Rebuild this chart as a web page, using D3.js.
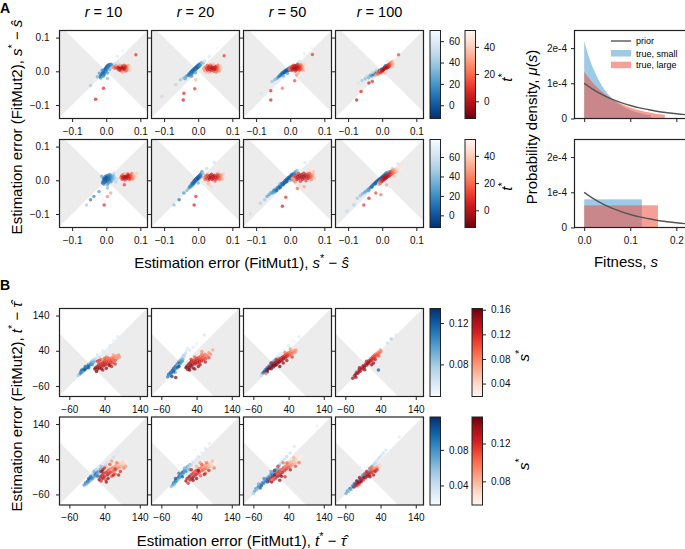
<!DOCTYPE html>
<html><head><meta charset="utf-8">
<script src="https://cdn.jsdelivr.net/npm/d3@7"></script>
<style>body{margin:0;background:#fff}</style>
</head><body><svg id="c" width="685" height="549"></svg>
<script>
// ---------------- DATA ----------------
const rLabels = ["10", "20", "50", "100"];
const aTicks = [-0.1, 0.0, 0.1];
const bTicks = [-60, 40, 140];
const aDomX = [-0.137, 0.121], aDomY = [-0.14, 0.121];
const bDomX = [-88, 162], bDomY = [-90, 160];
const aBlueCb = [[-12.4, 70], [-12.5, 78]];
const aRedCb = [[-12.6, 52], [-12.6, 52]];
const aBlueCbTicks = [0, 20, 40, 60];
const aRedCbTicks = [0, 20, 40];
const bBlueCb = [[0.049, 0.134], [0.018, 0.117]];
const bRedCb = [[0.019, 0.162], [0.055, 0.148]];
const bBlueCbTicks = [[0.08, 0.12], [0.04, 0.08]];
const bRedCbTicks = [[0.04, 0.08, 0.12, 0.16], [0.08, 0.12]];

// Panel A: [FitMut1 error, FitMut2 error, t*]
const A1b = [[-.018,-.016,5],[-.015,-.012,8],[-.013,-.008,3],[-.011,-.012,10],[-.010,-.004,2],[-.008,-.007,6],[-.007,.000,4],[-.006,-.010,12],[-.005,.004,1],[-.004,-.003,7],[-.003,.007,3],[-.002,.002,9],[-.001,.010,2],[.000,-.002,14],[.001,.013,4],[.002,.006,8],[.003,.016,3],[.005,.011,11],[.006,.019,5],[.008,.015,9],[.010,.020,7],[.012,.017,15],[.014,.021,10],[.016,.019,20],[-.020,-.006,22],[-.016,-.020,18],[-.012,.003,16],[.004,-.005,25],[.020,.013,35],[.025,.022,45],[.033,.027,55],[.033,.044,60],[.048,.060,65],[-.046,-.042,40],[.004,-.021,35],[-.026,-.016,30],[-.009,-.015,20],[.010,.005,28]];
const A1r = [[.018,.012,30],[.022,.015,25],[.025,.009,20],[.028,.013,12],[.030,.017,28],[.032,.008,8],[.035,.011,5],[.037,.004,10],[.038,.014,2],[.040,.008,0],[.042,.002,6],[.043,.012,-2],[.045,.006,3],[.046,.016,8],[.048,.010,-4],[.049,.003,12],[.050,.013,1],[.052,.007,-3],[.053,.018,15],[.055,.011,4],[.056,.001,18],[.057,.006,2],[.058,.015,9],[.060,.009,6],[.061,.003,22],[.062,.013,14],[.064,.007,25],[.065,.017,30],[.067,.010,35],[.069,.004,40],[.070,.014,42],[.072,.008,45],[.040,.019,33],[.047,-.002,28],[.087,.049,10],[-.008,-.050,8],[-.031,-.083,5]];
const A2b = [[-.030,-.012,10],[-.027,-.008,6],[-.025,-.013,15],[-.023,-.004,4],[-.021,-.009,8],[-.020,.000,3],[-.018,-.005,12],[-.016,.003,2],[-.015,-.002,7],[-.013,.006,1],[-.012,.001,9],[-.010,.009,4],[-.009,.004,6],[-.007,.012,2],[-.006,.007,11],[-.004,.015,5],[-.003,.010,3],[-.001,.017,8],[.000,.012,1],[.002,.020,6],[.003,.015,13],[.005,.022,9],[.007,.018,18],[-.035,-.015,20],[-.038,-.022,25],[-.042,-.020,30],[-.019,-.015,22],[.009,.026,28],[.014,.024,35],[-.052,-.025,38],[-.066,-.040,45],[-.106,-.075,50],[.032,.044,58],[.055,.070,66],[.018,.030,48],[-.008,-.004,26]];
const A2r = [[.016,.008,30],[.019,.002,25],[.021,.013,20],[.023,-.003,35],[.025,.008,10],[.027,.017,15],[.028,.003,6],[.030,.011,2],[.032,-.001,12],[.033,.015,4],[.035,.006,0],[.036,.019,18],[.038,.010,-3],[.040,.002,8],[.041,.014,1],[.043,.007,-2],[.044,.018,10],[.046,.000,14],[.047,.011,3],[.049,.005,-4],[.050,.015,6],[.052,.009,2],[.053,-.003,22],[.055,.013,9],[.056,.004,12],[.058,.018,20],[.059,.009,16],[.061,.001,26],[.062,.013,24],[.064,.006,32],[.066,.016,38],[.068,.010,44],[.045,.021,40],[.030,-.005,42],[.076,.046,12],[-.007,-.025,35],[-.010,-.052,10],[-.042,-.065,8],[-.044,-.085,5]];
const A3b = [[-.038,-.020,20],[-.034,-.016,15],[-.031,-.014,10],[-.029,-.010,18],[-.027,-.011,6],[-.025,-.006,12],[-.023,-.008,4],[-.021,-.003,8],[-.019,-.005,2],[-.017,.000,5],[-.015,-.003,1],[-.013,.003,3],[-.011,.000,0],[-.009,.005,2],[-.007,.002,-2],[-.005,.008,4],[-.003,.004,1],[-.001,.010,6],[.001,.006,3],[.003,.012,9],[.005,.008,7],[.008,.014,12],[.011,.011,16],[.014,.017,24],[.016,.015,30],[-.045,-.024,30],[-.053,-.030,38],[-.085,-.065,55],[.041,.053,60],[.063,.070,66],[.022,.024,45],[.028,.030,52],[-.020,-.014,28],[-.008,-.006,22]];
const A3r = [[-.003,.006,25],[.000,.012,20],[.002,.002,15],[.004,.009,8],[.006,.015,12],[.007,.004,4],[.009,.011,1],[.010,.018,10],[.012,.006,-2],[.013,.013,0],[.015,.001,6],[.016,.009,-4],[.017,.017,3],[.019,.005,-1],[.020,.012,-3],[.022,.020,8],[.023,.008,2],[.025,.014,-2],[.026,.003,10],[.028,.010,5],[.029,.018,14],[.031,.006,12],[.032,.013,9],[.034,.021,22],[.035,.009,18],[.037,.016,26],[.039,.004,30],[.040,.012,34],[.042,.019,40],[.044,.008,44],[.046,.015,48],[.038,.024,45],[.024,-.005,36],[.065,.050,12],[.019,-.011,28],[.013,-.028,14],[-.023,-.050,22],[-.057,-.058,8],[-.057,-.085,6]];
const A4b = [[-.059,-.027,40],[-.050,-.022,35],[-.044,-.015,45],[-.040,-.019,30],[-.035,-.012,25],[-.031,-.014,20],[-.027,-.008,15],[-.024,-.010,10],[-.020,-.004,12],[-.017,-.006,5],[-.014,-.001,8],[-.011,-.003,3],[-.008,.003,6],[-.005,.001,2],[-.002,.006,4],[.001,.004,1],[.004,.010,5],[.007,.013,8],[.010,.017,12],[-.028,-.003,50],[-.070,-.035,55],[-.018,.002,42],[.015,.030,60]];
const A4r = [[-.019,-.011,30],[-.015,-.006,25],[-.012,-.009,18],[-.009,-.002,12],[-.006,.001,20],[-.004,-.004,8],[-.001,.004,5],[.001,.000,2],[.003,.007,-1],[.005,.003,-3],[.007,.010,0],[.009,.006,-4],[.010,.013,3],[.012,.009,-2],[.014,.016,1],[.015,.011,-3],[.017,.019,6],[.018,.013,2],[.020,.021,10],[.021,.015,7],[.023,.024,16],[.024,.018,12],[.026,.027,22],[.027,.020,18],[.029,.024,28],[.031,.030,34],[.033,.022,36],[.036,.028,42],[.038,.033,46],[.040,.026,50],[.030,.014,38],[.008,-.004,32],[.048,.049,14],[-.029,-.030,10],[-.039,-.035,6],[-.062,-.060,8],[-.075,-.085,4],[.012,.000,44]];
const A5b = [[-.011,-.008,8],[-.009,-.002,4],[-.008,.006,10],[-.007,-.011,14],[-.005,.002,1],[-.004,.010,6],[-.003,-.006,3],[-.001,.004,0],[.000,.013,8],[.001,-.003,2],[.002,.008,-2],[.004,.001,5],[.005,.015,12],[.006,-.008,16],[.007,.006,3],[.009,.011,7],[.010,.000,9],[.011,.017,18],[.013,.005,11],[.014,-.004,20],[.015,.012,15],[.017,.008,24],[.019,.002,30],[.021,.014,35],[.024,.007,40],[.028,-.004,50],[.033,.004,58],[.022,.022,55],[.003,-.013,28],[-.021,-.033,25],[-.036,-.048,20],[-.046,-.058,15],[-.058,-.073,45],[.0035,-.023,40],[-.013,.012,30]];
const A5r = [[.043,.008,20],[.045,.013,12],[.047,.003,8],[.049,.010,2],[.050,.017,15],[.052,.006,-2],[.054,.012,0],[.055,.001,10],[.057,.009,-4],[.058,.015,4],[.060,.005,1],[.062,.011,-3],[.063,.019,9],[.065,.007,3],[.066,.014,-1],[.068,.002,14],[.069,.010,5],[.071,.016,10],[.072,.006,8],[.074,.012,16],[.075,.020,22],[.077,.004,24],[.078,.009,18],[.080,.014,28],[.082,.007,32],[.084,.012,38],[.086,.018,44],[.088,.005,46],[.090,.021,40],[.055,.020,36],[.053,-.013,12],[.013,-.038,30],[.0035,-.048,25],[-.006,-.073,8]];
const A6b = [[-.027,-.023,18],[-.024,-.017,12],[-.021,-.019,20],[-.019,-.010,6],[-.017,-.014,10],[-.015,-.006,3],[-.013,-.010,8],[-.012,-.001,1],[-.010,-.005,4],[-.008,.003,0],[-.007,-.002,6],[-.005,.006,2],[-.004,.001,9],[-.002,.009,3],[-.001,.004,1],[.001,.012,5],[.002,.007,2],[.004,.015,8],[.005,.010,4],[.007,.018,11],[.008,.013,14],[.009,.022,20],[.011,.026,30],[.014,.020,38],[-.042,-.038,25],[-.056,-.058,10],[-.071,-.073,40],[.047,.053,60],[.025,.035,55],[-.033,-.030,35],[.000,-.008,30]];
const A6r = [[.017,.008,28],[.020,.002,20],[.022,.013,15],[.025,.006,8],[.027,.016,12],[.029,.000,18],[.031,.010,2],[.033,.004,-2],[.035,.014,1],[.037,.008,-4],[.039,.018,6],[.041,.002,5],[.043,.011,-3],[.045,.006,0],[.047,.015,3],[.049,-.002,14],[.051,.009,2],[.053,.004,6],[.055,.013,4],[.057,.019,12],[.059,.007,8],[.061,.012,10],[.063,.002,20],[.065,.016,18],[.067,.009,24],[.069,.014,30],[.071,.004,34],[.073,.019,38],[.075,.010,44],[.060,.025,42],[.057,.046,48],[.037,-.018,40],[-.007,-.048,10],[-.012,-.073,6],[.030,-.010,35]];
const A7b = [[-.068,-.048,30],[-.062,-.043,25],[-.057,-.036,35],[-.053,-.038,20],[-.049,-.031,15],[-.045,-.027,22],[-.042,-.030,12],[-.038,-.022,8],[-.035,-.024,16],[-.032,-.017,5],[-.029,-.019,10],[-.026,-.012,3],[-.023,-.014,7],[-.021,-.007,1],[-.018,-.009,4],[-.016,-.002,0],[-.013,-.004,2],[-.011,.003,-2],[-.008,.001,1],[-.006,.008,3],[-.003,.005,0],[-.001,.012,4],[.002,.010,2],[.004,.017,6],[.007,.014,8],[.010,.021,12],[.013,.019,16],[.016,.026,22],[-.087,-.068,50],[-.117,-.100,60],[.043,.053,64],[.020,.029,40],[-.075,-.058,45],[-.030,-.010,38],[.000,.000,30],[-.040,-.030,6],[-.030,-.022,4],[-.020,-.012,2],[-.010,-.004,3],[.000,.006,5],[-.045,-.035,20],[-.025,-.010,12],[-.015,-.006,8],[.005,.015,10]];
const A7r = [[.006,.006,30],[.009,.000,22],[.011,.012,15],[.014,-.004,25],[.016,.008,6],[.018,.016,12],[.020,.002,2],[.022,.011,-2],[.024,.020,8],[.026,.005,0],[.028,.014,-4],[.030,-.003,10],[.032,.009,-3],[.034,.017,2],[.036,.003,-1],[.038,.012,-4],[.040,.021,6],[.042,.007,1],[.044,.015,-2],[.046,-.001,12],[.048,.010,3],[.050,.018,8],[.052,.005,5],[.054,.013,4],[.056,.022,16],[.058,.008,10],[.060,.016,14],[.062,.002,24],[.064,.011,20],[.066,.019,30],[.068,.026,38],[.070,.006,36],[.055,.030,44],[.065,.046,46],[.041,-.019,30],[.021,-.024,20],[-.013,-.050,10],[-.023,-.077,6],[.028,-.013,42]];
const A8b = [[-.073,-.053,45],[-.064,-.046,40],[-.058,-.040,35],[-.052,-.036,30],[-.047,-.032,25],[-.043,-.027,38],[-.039,-.026,20],[-.035,-.021,15],[-.031,-.018,10],[-.028,-.014,18],[-.025,-.012,6],[-.022,-.009,12],[-.019,-.006,3],[-.016,-.003,8],[-.013,-.001,1],[-.010,.002,4],[-.007,.004,0],[-.004,.007,2],[-.001,.010,5],[.002,.012,3],[.005,.015,7],[.008,.018,10],[.011,.021,14],[.015,.023,20],[.020,.025,28],[.025,.026,35],[-.103,-.092,55],[-.083,-.073,48],[.045,.050,62],[-.010,-.012,42],[.030,.035,50],[-.030,-.020,8],[-.020,-.010,5],[-.010,-.002,3],[.000,.006,2],[-.040,-.030,25],[.010,.015,8]];
const A8r = [[-.009,-.006,28],[-.006,-.010,20],[-.004,.000,15],[-.002,-.004,10],[.000,.004,6],[.002,-.001,2],[.004,.007,-2],[.006,.002,0],[.008,.010,-4],[.010,.005,-3],[.011,.013,1],[.013,.008,-1],[.015,.016,3],[.016,.011,-2],[.018,.019,5],[.020,.013,2],[.022,.022,8],[.023,.016,6],[.025,.025,12],[.027,.019,10],[.029,.028,18],[.031,.021,16],[.033,.030,26],[.036,.024,24],[.039,.031,34],[.042,.027,36],[.046,.033,42],[.050,.038,46],[.055,.031,48],[.035,.012,38],[.050,.045,44],[.012,-.014,30],[-.054,-.073,10],[-.039,-.053,6],[-.019,-.038,14],[-.004,-.043,22]];

// Panel B: [FitMut1 error, FitMut2 error, s*]
const B1b = [[-30,-26,.11],[-27,-20,.12],[-24,-22,.10],[-22,-15,.12],[-20,-18,.09],[-18,-11,.11],[-16,-14,.13],[-14,-7,.10],[-12,-10,.12],[-10,-3,.09],[-8,-6,.11],[-6,1,.10],[-4,-2,.12],[-2,4,.08],[0,1,.11],[2,8,.09],[4,5,.10],[6,12,.08],[8,9,.09],[10,15,.07],[13,13,.08],[16,19,.07],[19,17,.06],[22,22,.06],[25,21,.07],[30,30,.055],[38,36,.06],[45,44,.055],[55,55,.06],[65,68,.055],[77,80,.06],[-35,-30,.08],[20,28,.065],[35,40,.06],[-15,-5,.11],[-5,-8,.12],[5,0,.10],[-25,-15,.11],[10,8,.09]];
const B1r = [[12,-12,.155],[15,-8,.145],[17,-19,.165],[19,-5,.135],[21,-12,.155],[23,0,.125],[25,-8,.145],[27,4,.115],[29,-4,.135],[31,-11,.155],[33,2,.125],[35,8,.115],[37,-3,.145],[39,5,.125],[41,12,.105],[43,0,.135],[45,9,.115],[47,15,.095],[49,4,.125],[51,11,.105],[53,-2,.135],[55,17,.095],[57,8,.115],[59,13,.105],[61,20,.085],[63,6,.115],[65,16,.095],[67,22,.085],[70,12,.105],[73,25,.075],[76,18,.085],[80,28,.075],[82,22,.075],[45,22,.085],[30,15,.095],[20,10,.12],[35,-15,.14],[50,20,.09],[60,-5,.13],[40,18,.10],[70,2,.12],[25,12,.11],[55,0,.14],[65,28,.07],[45,-10,.15]];
const B2b = [[-42,-34,.11],[-39,-27,.12],[-37,-30,.10],[-34,-22,.12],[-32,-25,.11],[-29,-16,.13],[-27,-19,.10],[-25,-10,.12],[-22,-13,.11],[-20,-4,.12],[-18,-7,.10],[-15,2,.11],[-13,-1,.09],[-11,8,.10],[-8,5,.12],[-6,14,.09],[-4,11,.10],[-1,20,.08],[1,16,.09],[4,27,.08],[6,23,.07],[9,33,.07],[11,40,.06],[14,47,.06],[20,42,.065],[30,50,.06],[40,60,.055],[62,85,.065],[-30,-33,.13],[-20,-22,.09],[-10,-5,.13],[-25,-20,.12],[-15,-8,.12],[-5,5,.10],[0,10,.10]];
const B2r = [[10,-8,.165],[13,-3,.155],[15,-13,.145],[18,2,.145],[20,-7,.165],[22,6,.135],[24,-2,.155],[26,10,.125],[28,0,.145],[30,-9,.155],[32,7,.135],[34,14,.115],[36,2,.145],[38,10,.125],[40,18,.115],[42,5,.135],[44,13,.125],[46,21,.105],[48,8,.135],[50,16,.115],[52,24,.095],[54,11,.125],[56,19,.105],[58,27,.095],[60,14,.115],[62,22,.095],[64,30,.085],[66,18,.105],[70,26,.085],[75,34,.075],[80,30,.075],[86,42,.065],[-19,-36,.155],[55,38,.075],[35,-12,.145],[25,15,.12],[45,-5,.15],[55,30,.08],[65,8,.13],[35,22,.10],[75,20,.11],[20,-15,.16],[50,0,.14]];
const B3b = [[-34,-24,.10],[-31,-21,.11],[-28,-18,.12],[-26,-13,.10],[-23,-15,.13],[-21,-8,.11],[-18,-10,.12],[-16,-3,.10],[-13,-5,.12],[-11,2,.09],[-8,0,.11],[-6,7,.10],[-3,5,.12],[-1,12,.09],[2,10,.10],[4,17,.08],[7,15,.09],[9,22,.07],[12,20,.08],[14,28,.06],[20,32,.06],[28,42,.055],[40,55,.06],[55,67,.055],[70,80,.06],[-38,-30,.07],[-20,-20,.13],[-25,-20,.12],[-15,-5,.11],[-5,0,.12],[5,12,.09]];
const B3r = [[-19,-14,.145],[-15,-10,.155],[-12,-6,.135],[-9,-11,.165],[-6,-2,.145],[-3,-6,.155],[0,3,.135],[2,-2,.165],[4,7,.145],[6,1,.155],[8,11,.125],[10,5,.145],[12,14,.135],[14,8,.155],[16,17,.125],[18,11,.145],[20,20,.115],[22,14,.135],[24,23,.125],[26,17,.145],[28,26,.115],[30,20,.135],[32,29,.105],[34,23,.125],[36,31,.105],[38,26,.115],[40,34,.095],[43,28,.105],[46,37,.085],[50,32,.095],[54,40,.075],[58,36,.085],[61,42,.075],[-25,-25,.085],[45,45,.075],[5,15,.12],[15,-5,.16],[30,35,.09],[35,12,.14],[50,22,.12],[-10,5,.13],[25,5,.15]];
const B4b = [[-30,-20,.08],[-22,-14,.07],[-10,-2,.09],[70,73,.08],[84,85,.06],[34,-15,.12],[60,62,.07]];
const B4r = [[-39,-38,.145],[-34,-30,.135],[-30,-26,.155],[-27,-21,.125],[-24,-24,.145],[-21,-15,.135],[-18,-18,.155],[-15,-9,.125],[-12,-12,.145],[-9,-3,.135],[-6,-6,.155],[-3,2,.125],[0,-1,.145],[2,7,.135],[5,4,.155],[7,12,.125],[10,9,.145],[12,17,.115],[15,13,.135],[17,22,.115],[20,18,.125],[22,27,.105],[25,23,.115],[27,31,.095],[30,28,.105],[33,36,.085],[36,33,.095],[39,42,.075],[41,38,.085],[20,5,.145],[-5,-14,.155],[-20,-8,.14],[0,10,.12],[15,0,.15],[25,15,.13],[-30,-35,.15],[35,25,.10]];
const B5b = [[-18,-33,.08],[-14,-27,.09],[-11,-30,.07],[-8,-22,.10],[-5,-25,.08],[-2,-17,.09],[1,-20,.07],[3,-12,.10],[6,-15,.08],[8,-7,.09],[11,-10,.07],[13,-2,.10],[16,-5,.08],[18,2,.09],[21,-1,.07],[23,7,.08],[26,4,.06],[28,11,.07],[31,8,.05],[33,15,.06],[36,12,.05],[39,18,.05],[42,22,.04],[45,26,.04],[50,30,.035],[58,38,.03],[66,46,.04],[77,62,.035],[82,66,.03],[5,-5,.05],[20,12,.04],[0,-8,.09],[10,5,.07],[20,-8,.09],[-5,-15,.10],[30,20,.06],[15,10,.05],[35,5,.08]];
const B5r = [[25,-18,.14],[28,-10,.13],[30,-22,.12],[33,-5,.13],[35,-14,.14],[38,0,.12],[40,-9,.13],[43,-18,.11],[45,3,.12],[48,-5,.13],[50,8,.11],[52,-1,.12],[55,12,.10],[57,3,.12],[60,-8,.11],[62,15,.10],[64,6,.11],[67,18,.09],[69,9,.10],[72,21,.09],[74,12,.10],[77,24,.08],[79,15,.09],[82,27,.08],[84,18,.09],[87,30,.07],[90,22,.08],[93,33,.07],[96,26,.07],[100,36,.06],[104,30,.06],[60,28,.07],[45,18,.08],[70,-2,.11],[35,10,.13],[50,-15,.14],[55,25,.11],[65,-5,.13],[75,30,.10],[85,5,.12],[95,15,.10],[40,15,.12],[60,35,.09],[80,-5,.13],[100,20,.09],[45,-25,.14],[30,5,.14],[70,12,.12]];
const B6b = [[-28,-33,.08],[-25,-27,.09],[-23,-30,.07],[-20,-21,.10],[-18,-24,.08],[-15,-15,.09],[-13,-18,.07],[-10,-9,.10],[-8,-12,.08],[-5,-3,.09],[-3,-6,.07],[0,3,.10],[2,0,.08],[5,9,.09],[7,6,.07],[10,15,.08],[12,12,.06],[15,20,.07],[18,18,.05],[21,25,.06],[24,24,.05],[30,32,.04],[38,40,.035],[45,47,.04],[55,58,.03],[66,70,.035],[76,85,.03],[-32,-38,.06],[-10,0,.09],[0,-10,.10],[10,5,.08],[-20,-15,.10],[20,10,.07],[5,15,.06]];
const B6r = [[10,-22,.14],[13,-15,.13],[16,-28,.12],[19,-10,.14],[21,-19,.13],[24,-5,.12],[27,-14,.14],[30,0,.12],[32,-9,.13],[35,5,.11],[38,-4,.13],[40,9,.11],[43,0,.12],[46,13,.10],[48,4,.12],[51,-7,.11],[53,16,.10],[56,8,.11],[59,19,.09],[61,11,.10],[64,22,.09],[67,14,.10],[70,24,.08],[72,17,.09],[75,27,.08],[78,20,.08],[81,28,.07],[84,23,.07],[88,30,.06],[92,26,.06],[95,32,.06],[65,0,.11],[40,20,.08],[25,10,.13],[40,-15,.14],[55,25,.11],[62,-3,.13],[75,8,.12],[85,35,.08],[30,-20,.14],[50,30,.09],[90,15,.10],[68,30,.10],[45,8,.14]];
const B7b = [[-57,-52,.07],[-53,-44,.08],[-50,-47,.06],[-46,-38,.09],[-43,-41,.07],[-40,-32,.08],[-37,-35,.10],[-34,-26,.08],[-31,-29,.09],[-28,-20,.07],[-25,-23,.09],[-22,-14,.08],[-19,-17,.10],[-16,-8,.07],[-13,-11,.09],[-10,-2,.08],[-7,-5,.09],[-4,4,.07],[-1,1,.08],[2,10,.07],[5,7,.08],[8,16,.06],[11,13,.07],[14,22,.06],[18,28,.05],[22,33,.05],[28,40,.04],[35,48,.045],[44,58,.04],[56,76,.035],[120,134,.025],[-60,-58,.05],[-30,-15,.08],[-20,-25,.10],[-10,5,.07],[0,-5,.09],[-40,-42,.09],[10,20,.06],[-45,-30,.07]];
const B7r = [[-15,-22,.13],[-11,-15,.12],[-8,-25,.14],[-5,-10,.13],[-2,-18,.12],[1,-5,.14],[4,-13,.13],[7,0,.12],[10,-8,.14],[13,5,.12],[16,-3,.13],[19,10,.11],[22,2,.13],[25,15,.11],[28,7,.12],[31,20,.10],[34,12,.12],[37,25,.10],[40,17,.11],[43,29,.09],[46,21,.10],[49,33,.08],[52,25,.09],[55,38,.08],[58,30,.08],[61,42,.07],[64,34,.07],[68,46,.06],[72,40,.06],[76,52,.06],[80,45,.06],[30,-10,.12],[0,8,.13],[10,20,.11],[20,-8,.14],[35,30,.10],[45,10,.13],[55,45,.08],[60,20,.11],[70,30,.10],[15,-20,.14],[25,30,.10]];
const B8b = [[-58,-57,.07],[-54,-50,.08],[-51,-52,.06],[-47,-43,.09],[-44,-46,.07],[-40,-36,.08],[-37,-39,.10],[-33,-29,.08],[-30,-32,.09],[-26,-22,.07],[-23,-25,.09],[-19,-15,.08],[-16,-18,.10],[-12,-8,.07],[-9,-11,.09],[-5,-1,.08],[-2,-4,.09],[2,6,.07],[5,3,.08],[9,13,.06],[12,10,.07],[16,20,.06],[20,24,.05],[25,30,.05],[30,37,.04],[36,44,.045],[42,50,.04],[48,58,.04],[55,66,.035],[93,104,.03],[-35,-30,.09],[-20,-25,.10],[-10,-5,.08],[0,-2,.09],[10,15,.07]];
const B8r = [[-34,-38,.12],[-30,-32,.13],[-27,-35,.12],[-24,-27,.14],[-21,-30,.13],[-18,-22,.12],[-15,-24,.14],[-12,-16,.13],[-9,-19,.12],[-6,-11,.14],[-3,-13,.13],[0,-5,.12],[3,-8,.14],[6,0,.12],[9,-3,.13],[12,5,.11],[15,2,.12],[18,10,.10],[21,7,.11],[24,15,.09],[27,12,.10],[30,20,.08],[33,17,.09],[36,24,.07],[38,20,.07],[10,12,.10],[-5,-2,.11],[20,-5,.13],[-20,-12,.13],[0,5,.12],[10,-10,.14],[25,5,.13],[-28,-22,.14],[15,18,.10],[30,10,.12]];

// Right panels: fitness densities
const priorS = [0, 0.02, 0.04, 0.06, 0.08, 0.10, 0.12, 0.14, 0.16, 0.18, 0.20, 0.22, 0.24];
const priorY = [1.0e-4, 0.82e-4, 0.67e-4, 0.55e-4, 0.45e-4, 0.37e-4, 0.30e-4, 0.25e-4, 0.20e-4, 0.165e-4, 0.135e-4, 0.11e-4, 0.09e-4];
const smallS = [0, 0.01, 0.02, 0.03, 0.04, 0.05, 0.06, 0.07, 0.08, 0.09, 0.10, 0.11, 0.12, 0.13, 0.14, 0.145];
const smallY = [2.2e-4, 1.76e-4, 1.41e-4, 1.13e-4, 0.90e-4, 0.72e-4, 0.58e-4, 0.46e-4, 0.37e-4, 0.30e-4, 0.24e-4, 0.19e-4, 0.153e-4, 0.12e-4, 0.10e-4, 0.088e-4];
const largeS = [0, 0.01, 0.02, 0.03, 0.04, 0.05, 0.06, 0.07, 0.08, 0.09, 0.10, 0.11, 0.12, 0.13, 0.14, 0.15, 0.16, 0.17, 0.175];
const largeY = [1.33e-4, 1.15e-4, 0.995e-4, 0.86e-4, 0.745e-4, 0.645e-4, 0.557e-4, 0.48e-4, 0.417e-4, 0.36e-4, 0.31e-4, 0.27e-4, 0.234e-4, 0.20e-4, 0.175e-4, 0.151e-4, 0.13e-4, 0.113e-4, 0.105e-4];
const binSmall = [0, 0.125, 0.8e-4];
const binLarge = [0, 0.16, 0.63e-4];
const densTicks = [0, 1e-4, 2e-4];
const densTickLabels = ["0", "1e-4", "2e-4"];
const fitTicks = [0, 0.1, 0.2];
const legendLabels = ["prior", "true, small", "true, large"];

// ---------------- DRAWING ----------------
const FONT = '"Liberation Sans", Arial, Helvetica, sans-serif';
const svg = d3.select("#c");
const defs = svg.append("defs");
const P = 88;
const colX = [59.5, 151.5, 243.5, 335.5];
const rowA = [30.5, 139.5];
const rowB = [308.5, 417];
let clipN = 0;
const clamp = v => Math.max(0, Math.min(1, v));
const norm = (d, v) => clamp((v - d[0]) / (d[1] - d[0]));

function styleAxis(g) {
  g.attr("font-family", FONT).attr("font-size", 10);
  g.select(".domain").remove();
  g.selectAll(".tick line").attr("stroke", "#222").attr("stroke-width", 1);
  g.selectAll(".tick text").attr("fill", "#111");
}

function scatter(px, py, domX, domY, ticks, fmt, blue, red, cB, cR, showY, L) {
  const g = svg.append("g").attr("transform", `translate(${px},${py})`);
  const x = d3.scaleLinear().domain(domX).range([0, P]);
  const y = d3.scaleLinear().domain(domY).range([P, 0]);
  const id = "clip" + (clipN++);
  g.append("clipPath").attr("id", id).append("rect").attr("width", P).attr("height", P);
  const inner = g.append("g").attr("clip-path", `url(#${id})`);
  inner.append("path")
    .attr("d", `M${x(0)},${y(0)}L${x(L)},${y(L)}L${x(L)},${y(-L)}Z M${x(0)},${y(0)}L${x(-L)},${y(L)}L${x(-L)},${y(-L)}Z`)
    .attr("fill", "#ececec");
  inner.append("g").selectAll("circle").data(blue).join("circle")
    .attr("cx", d => x(d[0])).attr("cy", d => y(d[1])).attr("r", 1.75)
    .attr("fill", d => cB(d[2])).attr("fill-opacity", 0.72);
  inner.append("g").selectAll("circle").data(red).join("circle")
    .attr("cx", d => x(d[0])).attr("cy", d => y(d[1])).attr("r", 1.75)
    .attr("fill", d => cR(d[2])).attr("fill-opacity", 0.72);
  g.append("g").attr("transform", `translate(0,${P})`)
    .call(d3.axisBottom(x).tickValues(ticks).tickFormat(fmt).tickSize(3.5).tickPadding(5.5)).call(styleAxis);
  g.append("g")
    .call(d3.axisLeft(y).tickValues(ticks).tickFormat(showY ? fmt : () => "").tickSize(3.5).tickPadding(6.5)).call(styleAxis);
  g.append("rect").attr("width", P).attr("height", P).attr("fill", "none")
    .attr("stroke", "#222").attr("stroke-width", 1.2);
}

function cbar(x0, y0, w, dom, ticks, fmt, colorFn) {
  const id = "grad" + (clipN++);
  const grad = defs.append("linearGradient").attr("id", id).attr("x1", 0).attr("y1", 0).attr("x2", 0).attr("y2", 1);
  for (let k = 0; k <= 30; k++) {
    const v = dom[1] - k / 30 * (dom[1] - dom[0]);
    grad.append("stop").attr("offset", k / 30).attr("stop-color", colorFn(v));
  }
  svg.append("rect").attr("x", x0).attr("y", y0).attr("width", w).attr("height", P)
    .attr("fill", `url(#${id})`).attr("stroke", "#222").attr("stroke-width", 1);
  const s = d3.scaleLinear().domain(dom).range([y0 + P, y0]);
  svg.append("g").attr("transform", `translate(${x0 + w},0)`)
    .call(d3.axisRight(s).tickValues(ticks).tickFormat(fmt).tickSize(3.5).tickPadding(5)).call(styleAxis);
}

function starLabel(x, y, letter) {
  const t = svg.append("text").attr("transform", `translate(${x},${y}) rotate(-90)`)
    .attr("text-anchor", "middle").attr("font-family", FONT).attr("font-size", 15);
  t.append("tspan").attr("font-style", "italic").text(letter);
  t.append("tspan").attr("dy", -6).attr("font-size", 11).text("*");
}

const fmtA = d3.format(".1f");
const fmtB = d3.format("d");
const aPanels = [[A1b, A1r], [A2b, A2r], [A3b, A3r], [A4b, A4r], [A5b, A5r], [A6b, A6r], [A7b, A7r], [A8b, A8r]];
const bPanels = [[B1b, B1r], [B2b, B2r], [B3b, B3r], [B4b, B4r], [B5b, B5r], [B6b, B6r], [B7b, B7r], [B8b, B8r]];

for (let r = 0; r < 2; r++) {
  const cBA = v => d3.interpolateBlues(1 - norm(aBlueCb[r], v));
  const cRA = v => d3.interpolateReds(1 - norm(aRedCb[r], v));
  const cBB = v => d3.interpolateBlues(norm(bBlueCb[r], v));
  const cRB = v => d3.interpolateReds(norm(bRedCb[r], v));
  for (let c = 0; c < 4; c++) {
    const pa = aPanels[r * 4 + c], pb = bPanels[r * 4 + c];
    scatter(colX[c], rowA[r], aDomX, aDomY, aTicks, fmtA, pa[0], pa[1], cBA, cRA, c === 0, 1);
    scatter(colX[c], rowB[r], bDomX, bDomY, bTicks, fmtB, pb[0], pb[1], cBB, cRB, c === 0, 1000);
  }
  cbar(430, rowA[r], 10.5, aBlueCb[r], aBlueCbTicks, d3.format("d"), cBA);
  cbar(465, rowA[r], 10.5, aRedCb[r], aRedCbTicks, d3.format("d"), cRA);
  starLabel(512, rowA[r] + P / 2 + 3, "t");
  cbar(430, rowB[r], 10.5, bBlueCb[r], bBlueCbTicks[r], d3.format(".2f"), cBB);
  cbar(472, rowB[r], 10.5, bRedCb[r], bRedCbTicks[r], d3.format(".2f"), cRB);
  starLabel(529, rowB[r] + P / 2 + 3, "s");
}

// column titles
rLabels.forEach((lab, c) => {
  const t = svg.append("text").attr("x", colX[c] + P / 2).attr("y", 17).attr("text-anchor", "middle")
    .attr("font-family", FONT).attr("font-size", 14.5);
  t.append("tspan").attr("font-style", "italic").text("r");
  t.append("tspan").text(" = " + lab);
});

// panel letters
svg.append("text").attr("x", 0).attr("y", 12.5).attr("font-family", FONT).attr("font-weight", "bold").attr("font-size", 14).text("A");
svg.append("text").attr("x", 0).attr("y", 290).attr("font-family", FONT).attr("font-weight", "bold").attr("font-size", 14).text("B");

function axisLabel(x, y, rot, prefix, v, hat) {
  const t = svg.append("text").attr("transform", `translate(${x},${y}) rotate(${rot})`)
    .attr("text-anchor", "middle").attr("font-family", FONT).attr("font-size", 15);
  t.append("tspan").text(prefix);
  t.append("tspan").attr("font-style", "italic").text(v);
  t.append("tspan").attr("dy", -6).attr("font-size", 11).text("*");
  t.append("tspan").attr("dy", 6).text(" \u2212 ");
  t.append("tspan").attr("font-style", "italic").text(hat);
}
const midX = (colX[0] + colX[3] + P) / 2;
axisLabel(midX, 268, 0, "Estimation error (FitMut1), ", "s", "\u015D");
axisLabel(22, (rowA[0] + rowA[1] + P) / 2 - 2, -90, "Estimation error (FitMut2), ", "s", "\u015D");
axisLabel(midX, 546, 0, "Estimation error (FitMut1), ", "t", "\u03C4\u0302");
axisLabel(22, (rowB[0] + rowB[1] + P) / 2, -90, "Estimation error (FitMut2), ", "t", "\u03C4\u0302");

// ---------------- right panels ----------------
const rx = d3.scaleLinear().domain([-0.021, 0.222]).range([574.5, 686.5]);
const blueFill = "#4c9ed4", redFill = "#ee5040";
function densPanel(y0, isTop) {
  const y = d3.scaleLinear().domain([0, 2.5e-4]).range([y0 + P, y0]);
  const id = "clip" + (clipN++);
  svg.append("clipPath").attr("id", id).append("rect").attr("x", 574.5).attr("y", y0).attr("width", 120).attr("height", P);
  const g = svg.append("g").attr("clip-path", `url(#${id})`);
  if (isTop) {
    const area = d3.area().curve(d3.curveMonotoneX).x(d => rx(d[0])).y0(y(0)).y1(d => y(d[1]));
    g.append("path").attr("d", area(smallS.map((s, i) => [s, smallY[i]]))).attr("fill", blueFill).attr("fill-opacity", 0.55);
    g.append("path").attr("d", area(largeS.map((s, i) => [s, largeY[i]]))).attr("fill", redFill).attr("fill-opacity", 0.55);
  } else {
    g.append("rect").attr("x", rx(binSmall[0])).attr("y", y(binSmall[2])).attr("width", rx(binSmall[1]) - rx(binSmall[0]))
      .attr("height", y(0) - y(binSmall[2])).attr("fill", blueFill).attr("fill-opacity", 0.55);
    g.append("rect").attr("x", rx(binLarge[0])).attr("y", y(binLarge[2])).attr("width", rx(binLarge[1]) - rx(binLarge[0]))
      .attr("height", y(0) - y(binLarge[2])).attr("fill", redFill).attr("fill-opacity", 0.55);
  }
  const line = d3.line().curve(d3.curveMonotoneX).x(d => rx(d[0])).y(d => y(d[1]));
  g.append("path").attr("d", line(priorS.map((s, i) => [s, priorY[i]]))).attr("fill", "none").attr("stroke", "#555").attr("stroke-width", 1.4);
  svg.append("g").attr("transform", `translate(574.5,0)`)
    .call(d3.axisLeft(y).tickValues(densTicks).tickFormat((d, i) => densTickLabels[i]).tickSize(3.5).tickPadding(4)).call(styleAxis);
  svg.append("g").attr("transform", `translate(0,${y0 + P})`)
    .call(d3.axisBottom(rx).tickValues(fitTicks).tickFormat(isTop ? () => "" : d3.format(".1f")).tickSize(3.5).tickPadding(5.5)).call(styleAxis);
  svg.append("rect").attr("x", 574.5).attr("y", y0).attr("width", 130).attr("height", P)
    .attr("fill", "none").attr("stroke", "#222").attr("stroke-width", 1.2);
}
densPanel(30.5, true);
densPanel(139.5, false);

// legend
const lg = svg.append("g").attr("font-family", FONT).attr("font-size", 9);
lg.append("line").attr("x1", 611).attr("x2", 631).attr("y1", 41).attr("y2", 41).attr("stroke", "#555").attr("stroke-width", 1.4);
lg.append("rect").attr("x", 611).attr("y", 50).attr("width", 20).attr("height", 6.5).attr("fill", blueFill).attr("fill-opacity", 0.55);
lg.append("rect").attr("x", 611).attr("y", 61.7).attr("width", 20).attr("height", 6.5).attr("fill", redFill).attr("fill-opacity", 0.55);
[41, 53.3, 65].forEach((yy, i) => lg.append("text").attr("x", 636).attr("y", yy + 3.2).text(legendLabels[i]));

// right axis labels
const pl = svg.append("text").attr("transform", `translate(537,127) rotate(-90)`).attr("text-anchor", "middle")
  .attr("font-family", FONT).attr("font-size", 15);
pl.append("tspan").text("Probability density, ");
pl.append("tspan").attr("font-style", "italic").text("\u03BC");
pl.append("tspan").text("(");
pl.append("tspan").attr("font-style", "italic").text("s");
pl.append("tspan").text(")");
const fl = svg.append("text").attr("x", 626).attr("y", 267).attr("text-anchor", "middle")
  .attr("font-family", FONT).attr("font-size", 15);
fl.append("tspan").text("Fitness, ");
fl.append("tspan").attr("font-style", "italic").text("s");
</script></body></html>
